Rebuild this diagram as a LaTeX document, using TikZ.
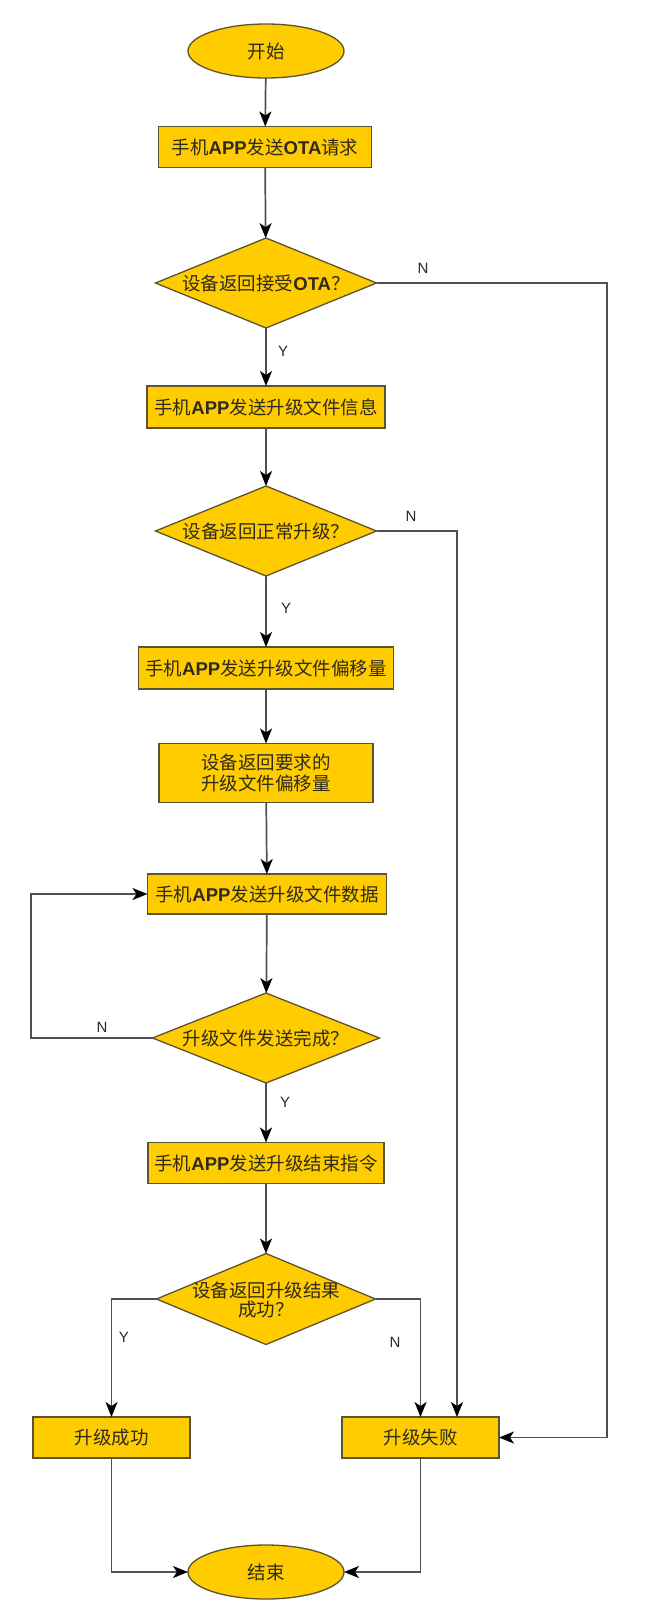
\documentclass[tikz,border=0pt]{standalone}
\usepackage{fontspec}
\setmainfont{Noto Sans CJK SC}
\newfontfamily\latfont{Liberation Sans}
\usetikzlibrary{shapes.geometric,arrows.meta}
\definecolor{fillY}{HTML}{FFCC00}
\definecolor{edgeC}{HTML}{5E5330}
\definecolor{lineC}{HTML}{505050}
\definecolor{txtC}{HTML}{2E2A1E}
\newcommand\en[1]{{\latfont\bfseries #1}}

\begin{document}
\begin{tikzpicture}[x=1pt,y=-1pt,
  every node/.style={inner sep=0pt, outer sep=0pt, text=txtC,
    font=\fontsize{18.5}{21}\selectfont},
  proc/.style={draw=edgeC, line width=1.3pt, fill=fillY, rectangle,
    minimum height=41pt, align=center},
  term/.style={draw=edgeC, line width=1.3pt, fill=fillY, ellipse,
    minimum width=156pt, minimum height=54pt},
  dec/.style={draw=edgeC, line width=1.3pt, fill=fillY, diamond,
    minimum width=221pt, minimum height=90pt},
  flow/.style={draw=lineC, line width=1.7pt,
    -{Stealth[length=15pt,width=12pt,inset=4pt,color=black]}},
  yn/.style={font=\latfont\fontsize{15}{17}\selectfont, text=txtC},
]
\useasboundingbox (0,0) rectangle (650,1607);
\fill[white] (0,0) rectangle (650,1607);

% main column
\node[term] (start) at (266,51) {开始};
\node[proc, minimum width=213pt] (b1) at (265,147) {手机\en{APP}发送\en{OTA}请求};
\node[dec] (d1) at (266,283) {};
\node (d1t) at (d1) {设备返回接受\en{OTA}？};
\node[proc, minimum width=238pt, minimum height=42pt] (b2) at (266,407) {手机\en{APP}发送升级文件信息};
\node[dec] (d2) at (266,531) {};
\node (d2t) at (d2) {设备返回正常升级？};
\node[proc, minimum width=255pt, minimum height=42pt] (b3) at (266,668) {手机\en{APP}发送升级文件偏移量};
\node[proc, minimum width=214pt, minimum height=59pt] (b4) at (266,773) {设备返回要求的\\升级文件偏移量};
\node[proc, minimum width=239pt, minimum height=40pt] (b5) at (267,894) {手机\en{APP}发送升级文件数据};
\node[dec, minimum width=227pt] (d3) at (266,1038) {};
\node (d3t) at (d3) {升级文件发送完成？};
\node[proc, minimum width=236pt] (b6) at (266,1163) {手机\en{APP}发送升级结束指令};
\node[dec, minimum width=219pt, minimum height=91pt] (d4) at (266,1299) {};
\node[align=center, font=\fontsize{18.5}{19}\selectfont] (d4t) at (266,1300) {设备返回升级结果\\成功？};
\node[proc, minimum width=157pt] (ok) at (111.5,1437.5) {升级成功};
\node[proc, minimum width=157pt] (fail) at (420.5,1437.5) {升级失败};
\node[term] (end) at (266,1572) {结束};

% branch labels
\node[yn] (n1) at (423,268) {N};
\node[yn] (y1) at (283,351) {Y};
\node[yn] (n2) at (411,516) {N};
\node[yn] (y2) at (286,608) {Y};
\node[yn] (n3) at (102,1027) {N};
\node[yn] (y3) at (285,1102) {Y};
\node[yn] (y4) at (124,1337) {Y};
\node[yn] (n4) at (395,1342) {N};

% connectors
\draw[flow] (start) -- (b1);
\draw[flow] (b1) -- (d1);
\draw[flow] (d1) -- (b2);
\draw[flow] (b2) -- (d2);
\draw[flow] (d2) -- (b3);
\draw[flow] (b3) -- (b4);
\draw[flow] (b4) -- (b5);
\draw[flow] (b5) -- (d3);
\draw[flow] (d3) -- (b6);
\draw[flow] (b6) -- (d4);

\coordinate (c1) at (607,283);
\draw[flow] (d1.east) -- (c1) |- (fail.east);
\coordinate (c2) at (457,1417);
\draw[flow] (d2.east) -| (c2);
\coordinate (c3) at (31,1038);
\draw[flow] (d3.west) -- (c3) |- (b5.west);
\draw[flow] (d4.west) -| (ok.north);
\draw[flow] (d4.east) -| (fail.north);
\draw[flow] (ok.south) |- (end.west);
\draw[flow] (fail.south) |- (end.east);
\end{tikzpicture}
\end{document}
